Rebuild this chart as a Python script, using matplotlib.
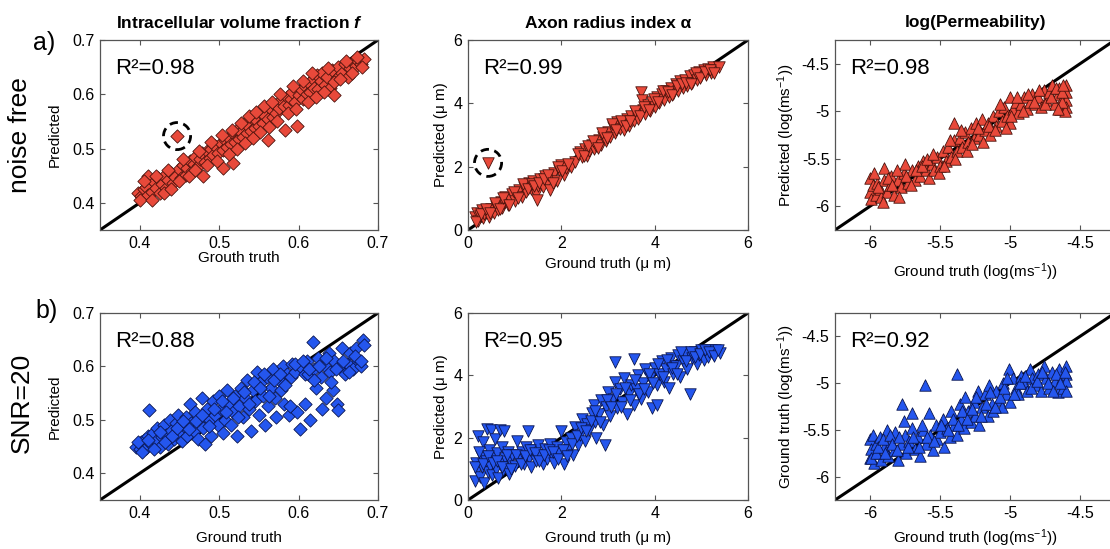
import numpy as np
import matplotlib
matplotlib.use("Agg")
import matplotlib.pyplot as plt

plt.rcParams["font.family"] = ["Liberation Sans", "DejaVu Sans"]
plt.rcParams["mathtext.fontset"] = "custom"
plt.rcParams["mathtext.rm"] = "Liberation Sans"
plt.rcParams["mathtext.it"] = "Liberation Sans:italic"
plt.rcParams["mathtext.bf"] = "Liberation Sans:bold"
plt.rcParams["mathtext.bfit"] = "Liberation Sans:italic:bold"
plt.rcParams["mathtext.default"] = "regular"

# (ground truth, predicted) pairs
f_clean = np.array([
    (0.398, 0.418), (0.402, 0.412), (0.405, 0.425), (0.408, 0.430), (0.410, 0.415),
    (0.410, 0.449), (0.415, 0.420), (0.418, 0.438), (0.420, 0.428), (0.423, 0.445),
    (0.425, 0.418), (0.428, 0.435), (0.430, 0.450), (0.433, 0.428), (0.436, 0.442),
    (0.440, 0.455), (0.442, 0.437), (0.445, 0.448), (0.450, 0.462), (0.452, 0.445),
    (0.455, 0.470), (0.458, 0.452), (0.460, 0.465), (0.463, 0.478), (0.466, 0.458),
    (0.468, 0.472), (0.470, 0.485), (0.473, 0.468), (0.476, 0.480), (0.478, 0.492),
    (0.480, 0.450), (0.482, 0.475), (0.485, 0.495), (0.488, 0.482), (0.490, 0.500),
    (0.492, 0.488), (0.495, 0.505), (0.498, 0.492), (0.505, 0.464), (0.502, 0.510),
    (0.505, 0.498), (0.517, 0.473), (0.508, 0.515), (0.510, 0.502), (0.513, 0.520),
    (0.515, 0.508), (0.518, 0.528), (0.520, 0.512), (0.523, 0.535), (0.525, 0.518),
    (0.528, 0.530), (0.530, 0.522), (0.533, 0.548), (0.535, 0.528), (0.538, 0.540),
    (0.540, 0.532), (0.543, 0.555), (0.545, 0.538), (0.548, 0.550), (0.550, 0.542),
    (0.553, 0.565), (0.555, 0.548), (0.558, 0.560), (0.562, 0.516), (0.562, 0.555),
    (0.565, 0.572), (0.568, 0.558), (0.570, 0.580), (0.572, 0.565), (0.575, 0.575),
    (0.578, 0.590), (0.583, 0.534), (0.582, 0.578), (0.585, 0.595), (0.588, 0.580),
    (0.590, 0.592), (0.592, 0.605), (0.595, 0.585), (0.598, 0.542), (0.600, 0.598),
    (0.603, 0.610), (0.605, 0.592), (0.608, 0.615), (0.610, 0.600), (0.613, 0.620),
    (0.615, 0.605), (0.618, 0.628), (0.620, 0.612), (0.623, 0.635), (0.625, 0.610),
    (0.628, 0.625), (0.630, 0.640), (0.633, 0.618), (0.636, 0.632), (0.640, 0.612),
    (0.642, 0.645), (0.645, 0.598), (0.648, 0.630), (0.650, 0.650), (0.655, 0.640),
    (0.658, 0.655), (0.662, 0.632), (0.665, 0.648), (0.668, 0.660), (0.672, 0.652),
    (0.675, 0.662), (0.678, 0.655), (0.682, 0.665), (0.447, 0.523),
    (0.400, 0.405), (0.405, 0.440), (0.415, 0.405), (0.420, 0.450), (0.430, 0.418),
    (0.435, 0.460), (0.440, 0.425), (0.450, 0.440), (0.455, 0.480), (0.462, 0.450),
    (0.470, 0.460), (0.475, 0.495), (0.485, 0.470), (0.490, 0.512), (0.497, 0.478),
    (0.503, 0.525), (0.512, 0.490), (0.516, 0.535), (0.522, 0.500), (0.527, 0.548),
    (0.532, 0.510), (0.537, 0.560), (0.542, 0.520), (0.547, 0.568), (0.552, 0.530),
    (0.557, 0.578), (0.563, 0.540), (0.567, 0.585), (0.573, 0.550), (0.577, 0.600),
    (0.587, 0.565), (0.593, 0.615), (0.597, 0.572), (0.605, 0.625), (0.612, 0.585),
    (0.617, 0.640), (0.622, 0.595), (0.632, 0.605), (0.637, 0.648), (0.644, 0.622),
    (0.652, 0.628), (0.660, 0.662), (0.667, 0.640), (0.673, 0.668), (0.680, 0.650),
])

a_clean = np.array([
    (0.15, 0.40), (0.20, 0.55), (0.22, 0.30), (0.25, 0.45), (0.30, 0.62),
    (0.32, 0.38), (0.35, 0.50), (0.40, 0.58), (0.45, 0.42), (0.50, 0.65),
    (0.55, 0.55), (0.60, 0.75), (0.65, 0.62), (0.70, 0.90), (0.72, 0.70),
    (0.78, 0.85), (0.80, 1.05), (0.85, 0.78), (0.90, 0.95), (0.95, 1.15),
    (1.00, 0.92), (1.05, 1.10), (1.10, 1.25), (1.15, 1.05), (1.20, 1.35),
    (1.25, 1.20), (1.30, 1.48), (1.35, 1.30), (1.40, 1.55), (1.45, 1.15),
    (1.48, 0.95), (1.50, 1.40), (1.55, 1.60), (1.60, 1.35), (1.65, 1.70),
    (1.70, 1.50), (1.75, 1.25), (1.80, 1.65), (1.85, 1.80), (1.90, 1.55),
    (1.95, 1.90), (2.00, 2.05), (2.05, 1.75), (2.10, 1.95), (2.20, 2.00),
    (2.30, 2.15), (2.40, 2.45), (2.45, 2.30), (2.50, 2.55), (2.55, 2.35),
    (2.60, 2.50), (2.65, 2.70), (2.70, 2.55), (2.75, 2.65), (2.80, 2.85),
    (2.85, 2.70), (2.90, 2.95), (2.95, 2.80), (3.00, 3.10), (3.05, 2.95),
    (3.10, 3.25), (3.15, 3.05), (3.20, 3.40), (3.25, 3.20), (3.30, 3.35),
    (3.35, 3.15), (3.40, 3.50), (3.45, 3.30), (3.50, 3.60), (3.55, 3.45),
    (3.60, 3.70), (3.65, 3.50), (3.70, 4.35), (3.72, 4.10), (3.75, 3.80),
    (3.80, 3.65), (3.85, 3.95), (3.90, 3.75), (3.95, 4.05), (4.00, 3.90),
    (4.05, 4.20), (4.10, 4.00), (4.15, 4.30), (4.20, 4.10), (4.25, 4.40),
    (4.30, 4.20), (4.35, 4.50), (4.40, 4.30), (4.45, 4.60), (4.50, 4.40),
    (4.55, 4.70), (4.60, 4.50), (4.65, 4.75), (4.70, 4.55), (4.75, 4.85),
    (4.80, 4.65), (4.85, 4.90), (4.90, 4.75), (4.95, 5.00), (5.00, 4.85),
    (5.05, 5.05), (5.10, 4.90), (5.15, 5.10), (5.20, 4.95), (5.25, 5.15),
    (5.30, 5.05), (5.38, 5.15), (0.43, 2.12),
    (0.18, 0.25), (0.28, 0.50), (0.38, 0.65), (0.48, 0.55), (0.58, 0.85),
    (0.68, 0.65), (0.75, 1.00), (0.88, 0.80), (0.98, 1.20), (1.08, 1.00),
    (1.18, 1.45), (1.28, 1.30), (1.38, 1.45), (1.42, 1.40), (1.52, 1.50),
    (1.62, 1.60), (1.72, 1.75), (1.82, 1.50), (1.92, 2.00), (2.02, 1.85),
    (2.15, 2.10), (2.35, 2.40), (2.48, 2.35), (2.58, 2.65), (2.68, 2.80),
    (2.78, 2.60), (2.88, 3.05), (2.98, 2.90), (3.08, 3.35), (3.18, 3.15),
    (3.28, 3.45), (3.38, 3.30), (3.48, 3.45), (3.58, 3.75), (3.68, 3.60),
    (3.78, 3.90), (3.88, 3.80), (3.98, 4.15), (4.08, 4.05), (4.18, 4.40),
    (4.28, 4.35), (4.38, 4.25), (4.48, 4.55), (4.58, 4.60), (4.68, 4.65),
    (4.78, 4.60), (4.88, 4.95), (4.98, 4.80), (5.08, 5.00), (5.18, 5.05),
    (5.28, 4.95),
])

p_clean = np.array([
    (-6.00, -5.85), (-6.00, -5.70), (-5.99, -5.92), (-5.98, -5.78), (-5.96, -5.88),
    (-5.95, -5.75), (-5.93, -5.82), (-5.92, -5.90), (-5.90, -5.60), (-5.90, -5.72),
    (-5.88, -5.85), (-5.86, -5.78), (-5.85, -5.68), (-5.83, -5.88), (-5.80, -5.72),
    (-5.78, -5.80), (-5.76, -5.65), (-5.75, -5.55), (-5.73, -5.75), (-5.70, -5.62),
    (-5.68, -5.72), (-5.66, -5.58), (-5.64, -5.68), (-5.62, -5.52), (-5.60, -5.62),
    (-5.58, -5.70), (-5.56, -5.55), (-5.54, -5.62), (-5.52, -5.48), (-5.50, -5.58),
    (-5.48, -5.42), (-5.46, -5.52), (-5.44, -5.38), (-5.42, -5.48), (-5.40, -5.12),
    (-5.40, -5.30), (-5.38, -5.42), (-5.36, -5.28), (-5.34, -5.38), (-5.32, -5.22),
    (-5.30, -5.32), (-5.28, -5.18), (-5.26, -5.28), (-5.24, -5.12), (-5.22, -5.25),
    (-5.20, -5.08), (-5.18, -5.20), (-5.16, -5.12), (-5.14, -5.25), (-5.12, -5.05),
    (-5.10, -5.15), (-5.08, -5.00), (-5.06, -5.10), (-5.04, -4.95), (-5.02, -5.05),
    (-5.00, -4.85), (-5.00, -5.12), (-4.98, -4.98), (-4.96, -4.90), (-4.94, -5.02),
    (-4.92, -4.92), (-4.90, -4.85), (-4.88, -4.98), (-4.86, -4.90), (-4.84, -4.82),
    (-4.82, -4.92), (-4.80, -4.85), (-4.78, -4.95), (-4.76, -4.78), (-4.74, -4.88),
    (-4.72, -4.80), (-4.70, -4.72), (-4.68, -4.92), (-4.66, -4.82), (-4.65, -4.75),
    (-4.64, -4.98), (-4.62, -4.85), (-4.60, -4.72), (-4.60, -4.80), (-4.60, -4.88),
    (-4.60, -4.95), (-4.61, -5.00), (-4.63, -4.90),
    (-5.97, -5.65), (-5.94, -5.80), (-5.91, -5.95), (-5.87, -5.70), (-5.84, -5.78),
    (-5.81, -5.62), (-5.79, -5.90), (-5.74, -5.68), (-5.71, -5.78), (-5.67, -5.62),
    (-5.63, -5.58), (-5.59, -5.50), (-5.55, -5.45), (-5.51, -5.65), (-5.47, -5.58),
    (-5.43, -5.30), (-5.39, -5.50), (-5.35, -5.20), (-5.31, -5.42), (-5.27, -5.35),
    (-5.23, -5.18), (-5.19, -5.32), (-5.15, -5.15), (-5.11, -5.20), (-5.07, -4.92),
    (-5.03, -5.18), (-4.99, -5.05), (-4.95, -4.85), (-4.91, -5.00), (-4.87, -4.82),
    (-4.83, -4.90), (-4.79, -4.78), (-4.75, -4.92), (-4.71, -4.85), (-4.67, -4.75),
    (-4.63, -4.80), (-4.62, -4.72), (-4.66, -4.98),
])

f_snr20 = np.array([
    (0.395, 0.450), (0.400, 0.445), (0.402, 0.458), (0.405, 0.462), (0.408, 0.448),
    (0.410, 0.470), (0.412, 0.518), (0.414, 0.455), (0.417, 0.475), (0.420, 0.460),
    (0.422, 0.485), (0.425, 0.450), (0.428, 0.468), (0.430, 0.490), (0.433, 0.472),
    (0.436, 0.455), (0.438, 0.500), (0.440, 0.480), (0.443, 0.465), (0.446, 0.495),
    (0.448, 0.510), (0.450, 0.475), (0.453, 0.460), (0.456, 0.488), (0.458, 0.505),
    (0.460, 0.470), (0.463, 0.530), (0.465, 0.495), (0.468, 0.480), (0.470, 0.515),
    (0.473, 0.465), (0.476, 0.500), (0.478, 0.540), (0.480, 0.485), (0.482, 0.455),
    (0.485, 0.520), (0.488, 0.500), (0.490, 0.470), (0.492, 0.535), (0.495, 0.510),
    (0.498, 0.490), (0.500, 0.545), (0.502, 0.520), (0.505, 0.475), (0.507, 0.500),
    (0.510, 0.555), (0.512, 0.530), (0.515, 0.490), (0.518, 0.515), (0.520, 0.545),
    (0.522, 0.470), (0.525, 0.525), (0.528, 0.560), (0.530, 0.505), (0.533, 0.540),
    (0.535, 0.575), (0.538, 0.520), (0.540, 0.480), (0.543, 0.555), (0.545, 0.535),
    (0.548, 0.590), (0.550, 0.510), (0.553, 0.570), (0.555, 0.545), (0.558, 0.490),
    (0.560, 0.580), (0.562, 0.525), (0.565, 0.560), (0.568, 0.595), (0.570, 0.540),
    (0.572, 0.505), (0.575, 0.575), (0.578, 0.555), (0.580, 0.600), (0.582, 0.530),
    (0.585, 0.585), (0.588, 0.510), (0.590, 0.580), (0.592, 0.605), (0.595, 0.590),
    (0.598, 0.515), (0.602, 0.483), (0.602, 0.600), (0.608, 0.585), (0.608, 0.530),
    (0.610, 0.610), (0.612, 0.585), (0.615, 0.500), (0.618, 0.646), (0.620, 0.595),
    (0.622, 0.560), (0.625, 0.615), (0.628, 0.580), (0.630, 0.520), (0.633, 0.600),
    (0.635, 0.540), (0.638, 0.625), (0.640, 0.590), (0.643, 0.555), (0.645, 0.610),
    (0.648, 0.530), (0.650, 0.518), (0.652, 0.600), (0.655, 0.635), (0.658, 0.585),
    (0.662, 0.605), (0.665, 0.625), (0.668, 0.595), (0.672, 0.635), (0.675, 0.610),
    (0.678, 0.600), (0.681, 0.649), (0.682, 0.640),
    (0.398, 0.458), (0.403, 0.440), (0.411, 0.462), (0.418, 0.445), (0.426, 0.478),
    (0.432, 0.458), (0.441, 0.470), (0.447, 0.485), (0.455, 0.498), (0.462, 0.482),
    (0.471, 0.498), (0.478, 0.510), (0.487, 0.488), (0.494, 0.520), (0.503, 0.535),
    (0.509, 0.515), (0.517, 0.540), (0.524, 0.505), (0.531, 0.552), (0.537, 0.530),
    (0.544, 0.570), (0.551, 0.560), (0.557, 0.585), (0.563, 0.545), (0.569, 0.575),
    (0.577, 0.585), (0.583, 0.565), (0.589, 0.525), (0.596, 0.605), (0.606, 0.610),
    (0.613, 0.595), (0.619, 0.575), (0.626, 0.600), (0.634, 0.615), (0.641, 0.570),
    (0.647, 0.595), (0.656, 0.610), (0.663, 0.590), (0.671, 0.620), (0.679, 0.610),
])

a_snr20 = np.array([
    (0.15, 0.60), (0.18, 1.20), (0.20, 0.95), (0.22, 2.05), (0.25, 0.75),
    (0.28, 1.40), (0.30, 1.05), (0.32, 1.85), (0.35, 0.55), (0.38, 1.25),
    (0.40, 2.28), (0.42, 0.90), (0.45, 1.60), (0.48, 1.10), (0.50, 2.25),
    (0.52, 0.80), (0.55, 1.35), (0.58, 1.95), (0.60, 1.00), (0.62, 1.50),
    (0.65, 0.70), (0.68, 2.25), (0.70, 1.20), (0.72, 1.70), (0.75, 0.95),
    (0.78, 2.20), (0.80, 1.35), (0.82, 1.05), (0.85, 1.55), (0.88, 0.85),
    (0.90, 1.25), (0.95, 1.45), (1.00, 1.10), (1.05, 1.90), (1.10, 1.30),
    (1.15, 1.55), (1.20, 1.15), (1.25, 1.70), (1.28, 2.20), (1.30, 1.35),
    (1.35, 1.05), (1.40, 1.60), (1.45, 1.25), (1.50, 1.75), (1.55, 1.40),
    (1.60, 1.15), (1.65, 1.65), (1.70, 1.30), (1.75, 1.80), (1.80, 1.45),
    (1.85, 1.20), (1.90, 1.70), (1.95, 1.50), (2.00, 2.20), (2.05, 1.15),
    (2.10, 1.85), (2.15, 1.60), (2.20, 2.00), (2.25, 1.45), (2.30, 2.35),
    (2.35, 1.75), (2.40, 2.10), (2.45, 2.60), (2.50, 1.90), (2.55, 2.45),
    (2.60, 2.25), (2.65, 2.80), (2.70, 3.05), (2.72, 2.50), (2.75, 2.00),
    (2.80, 2.75), (2.85, 3.20), (2.90, 2.40), (2.93, 1.77), (2.95, 3.00),
    (3.00, 3.45), (3.05, 2.70), (3.10, 3.25), (3.15, 4.43), (3.15, 3.80),
    (3.20, 2.95), (3.25, 3.55), (3.30, 3.15), (3.35, 3.90), (3.40, 2.75),
    (3.45, 3.40), (3.50, 3.70), (3.55, 4.52), (3.55, 3.05), (3.60, 3.55),
    (3.65, 4.00), (3.70, 3.25), (3.75, 3.75), (3.80, 4.20), (3.85, 3.45),
    (3.90, 3.90), (3.95, 2.95), (4.00, 4.25), (4.05, 3.05), (4.05, 3.70),
    (4.10, 4.05), (4.15, 4.45), (4.20, 3.80), (4.25, 4.20), (4.30, 3.60),
    (4.35, 4.55), (4.40, 4.05), (4.45, 4.30), (4.50, 4.65), (4.55, 3.95),
    (4.60, 4.45), (4.65, 4.70), (4.70, 4.20), (4.75, 3.40), (4.80, 4.55),
    (4.85, 4.75), (4.90, 4.35), (4.95, 4.65), (5.00, 4.80), (5.05, 4.50),
    (5.10, 4.75), (5.15, 4.60), (5.20, 4.80), (5.25, 4.70), (5.30, 4.80),
    (5.40, 4.72),
    (0.16, 1.05), (0.24, 1.55), (0.33, 1.15), (0.43, 1.40), (0.53, 1.20),
    (0.63, 1.25), (0.73, 1.05), (0.83, 1.45), (0.93, 1.00), (1.03, 1.45),
    (1.13, 1.15), (1.23, 1.40), (1.33, 1.60), (1.43, 1.50), (1.53, 1.25),
    (1.63, 1.45), (1.73, 1.60), (1.83, 1.55), (1.93, 1.30), (2.03, 1.60),
    (2.13, 1.40), (2.23, 1.80), (2.33, 2.05), (2.43, 2.30), (2.53, 2.20),
    (2.63, 2.55), (2.73, 2.85), (2.83, 2.50), (2.97, 3.20), (3.07, 3.00),
    (3.17, 3.40), (3.27, 3.00), (3.37, 3.60), (3.47, 3.20), (3.57, 3.85),
    (3.67, 3.40), (3.77, 3.55), (3.87, 4.05), (3.97, 3.75), (4.07, 4.35),
    (4.17, 3.95), (4.27, 4.50), (4.37, 4.25), (4.47, 4.05), (4.57, 4.75),
    (4.67, 4.45), (4.77, 4.75), (4.87, 4.60), (4.97, 4.70), (5.07, 4.80),
    (5.17, 4.75), (5.27, 4.62), (5.35, 4.80),
])

p_snr20 = np.array([
    (-6.00, -5.60), (-6.00, -5.80), (-5.99, -5.70), (-5.98, -5.55), (-5.97, -5.85),
    (-5.96, -5.65), (-5.95, -5.75), (-5.93, -5.58), (-5.92, -5.82), (-5.90, -5.68),
    (-5.88, -5.50), (-5.87, -5.78), (-5.85, -5.62), (-5.83, -5.72), (-5.82, -5.52),
    (-5.80, -5.82), (-5.78, -5.65), (-5.77, -5.22), (-5.76, -5.40), (-5.75, -5.55),
    (-5.74, -5.75), (-5.72, -5.62), (-5.70, -5.48), (-5.70, -5.32), (-5.68, -5.70),
    (-5.66, -5.58), (-5.64, -5.78), (-5.62, -5.50), (-5.61, -5.02), (-5.60, -5.65),
    (-5.58, -5.32), (-5.57, -5.55), (-5.55, -5.72), (-5.53, -5.45), (-5.52, -5.60),
    (-5.50, -5.52), (-5.48, -5.38), (-5.47, -5.68), (-5.45, -5.48), (-5.43, -5.58),
    (-5.42, -5.30), (-5.40, -5.45), (-5.38, -4.90), (-5.38, -5.55), (-5.36, -5.22),
    (-5.35, -5.38), (-5.33, -5.48), (-5.32, -5.15), (-5.30, -5.30), (-5.28, -5.42),
    (-5.26, -5.20), (-5.25, -5.35), (-5.23, -5.08), (-5.22, -5.45), (-5.20, -5.25),
    (-5.18, -5.12), (-5.16, -5.35), (-5.15, -5.02), (-5.13, -5.22), (-5.12, -5.30),
    (-5.10, -5.08), (-5.08, -5.18), (-5.06, -5.25), (-5.05, -5.00), (-5.03, -5.12),
    (-5.01, -4.85), (-5.00, -5.20), (-4.98, -4.95), (-4.96, -5.05), (-4.94, -5.12),
    (-4.92, -4.92), (-4.90, -5.00), (-4.88, -5.08), (-4.86, -4.85), (-4.84, -4.95),
    (-4.82, -5.02), (-4.80, -4.90), (-4.78, -5.08), (-4.76, -4.82), (-4.74, -4.95),
    (-4.72, -5.05), (-4.70, -4.88), (-4.68, -4.98), (-4.66, -5.10), (-4.65, -4.85),
    (-4.63, -4.95), (-4.62, -5.05), (-4.60, -4.82), (-4.60, -4.90), (-4.60, -4.98),
    (-4.60, -5.08),
    (-5.99, -5.80), (-5.96, -5.75), (-5.94, -5.68), (-5.91, -5.60), (-5.89, -5.75),
    (-5.86, -5.55), (-5.84, -5.65), (-5.81, -5.72), (-5.79, -5.58), (-5.73, -5.68),
    (-5.69, -5.58), (-5.65, -5.68), (-5.63, -5.45), (-5.59, -5.58), (-5.54, -5.62),
    (-5.49, -5.45), (-5.44, -5.50), (-5.41, -5.38), (-5.37, -5.45), (-5.34, -5.30),
    (-5.31, -5.38), (-5.27, -5.28), (-5.24, -5.15), (-5.21, -5.35), (-5.17, -5.22),
    (-5.14, -5.10), (-5.11, -5.25), (-5.07, -5.15), (-5.04, -5.05), (-5.02, -4.95),
    (-4.97, -5.12), (-4.93, -5.00), (-4.89, -4.92), (-4.85, -5.05), (-4.81, -4.98),
    (-4.77, -4.88), (-4.73, -5.00), (-4.69, -5.08), (-4.67, -4.90), (-4.64, -5.00),
    (-4.61, -4.88),
])

r2_clean = ["0.98", "0.99", "0.98"]
r2_snr20 = ["0.88", "0.95", "0.92"]
outliers = {0: (0.447, 0.523), 1: (0.43, 2.12)}

titles = [r"Intracellular volume fraction $\mathbfit{f}$", "Axon radius index α",
          "log(Permeability)"]
limits = [(0.35, 0.7), (0, 6), (-6.25, -4.25)]
ticks = [[0.4, 0.5, 0.6, 0.7], [0, 2, 4, 6], [-6, -5.5, -5, -4.5]]
tick_labels = [["0.4", "0.5", "0.6", "0.7"], ["0", "2", "4", "6"],
               ["-6", "-5.5", "-5", "-4.5"]]
markers = ["D", "v", "^"]
msize = [46, 68, 68]
RED, RED_EDGE = "#e8493a", "#4a120c"
BLUE, BLUE_EDGE = "#2456ee", "#0a1650"

W, H = 1110, 549
fig = plt.figure(figsize=(W / 100, H / 100), dpi=100)

# axes boxes in pixels: left, top, right, bottom
cols = [(100, 378), (468, 748), (835, 1115)]
rows = [(40, 230), (313, 500)]


def add_axes(c, r):
    l, rr = cols[c]
    t, b = rows[r]
    return fig.add_axes([l / W, 1 - b / H, (rr - l) / W, (b - t) / H])


def panel(ax, data, c, color, edge, r2):
    lo, hi = limits[c]
    ax.plot([lo, hi], [lo, hi], color="k", lw=2.2, zorder=1)
    ax.scatter(data[:, 0], data[:, 1], s=msize[c], marker=markers[c],
               facecolor=color, edgecolor=edge, linewidths=0.6, zorder=2)
    ax.set_xlim(lo, hi)
    ax.set_ylim(lo, hi)
    ax.set_xticks(ticks[c])
    ax.set_yticks(ticks[c])
    ax.set_xticklabels(tick_labels[c])
    ax.set_yticklabels(tick_labels[c])
    ax.tick_params(direction="in", top=True, right=True, length=3.5,
                   width=0.8, labelsize=11.5, pad=4, color="#555555")
    for s in ax.spines.values():
        s.set_color("#555555")
        s.set_linewidth(0.9)
    ax.text(0.055, 0.82, "R²=" + r2, transform=ax.transAxes, fontsize=16,
            ha="left", va="baseline")


ylabels_top = ["Predicted", "Predicted (μ m)", r"Predicted (log(ms$^{-1}$))"]
ylabels_bot = ["Predicted", "Predicted (μ m)", r"Ground truth (log(ms$^{-1}$))"]
xlabels_top = ["Grouth truth", "Ground truth (μ m)", r"Ground truth (log(ms$^{-1}$))"]
xlabels_bot = ["Ground truth", "Ground truth (μ m)", r"Ground truth (log(ms$^{-1}$))"]
ylab_x = [-0.137, -0.071, -0.136]
xlab_y_top = [-0.11, -0.14, -0.165]
xlab_y_bot = [-0.165, -0.165, -0.145]

for c, data in enumerate([f_clean, a_clean, p_clean]):
    ax = add_axes(c, 0)
    panel(ax, data, c, RED, RED_EDGE, r2_clean[c])
    ax.set_title(titles[c], fontsize=12.5, fontweight="bold", pad=9)
    ax.set_ylabel(ylabels_top[c], fontsize=11)
    ax.set_xlabel(xlabels_top[c], fontsize=11)
    ax.yaxis.set_label_coords(ylab_x[c], 0.5)
    ax.xaxis.set_label_coords(0.5, xlab_y_top[c])
    if c in outliers:
        ox, oy = outliers[c]
        ax.scatter([ox], [oy], s=380, marker="o", facecolor="none",
                   edgecolor="k", linewidths=2, linestyle=(0, (3, 2)), zorder=3)

for c, data in enumerate([f_snr20, a_snr20, p_snr20]):
    ax = add_axes(c, 1)
    panel(ax, data, c, BLUE, BLUE_EDGE, r2_snr20[c])
    ax.set_ylabel(ylabels_bot[c], fontsize=11)
    ax.set_xlabel(xlabels_bot[c], fontsize=11)
    ax.yaxis.set_label_coords(ylab_x[c], 0.5)
    ax.xaxis.set_label_coords(0.5, xlab_y_bot[c])

fig.text(33 / W, 1 - 50 / H, "a)", fontsize=18, ha="left", va="baseline")
fig.text(35 / W, 1 - 318 / H, "b)", fontsize=18, ha="left", va="baseline")
fig.text(20 / W, 1 - 135 / H, "noise free", fontsize=19, rotation=90,
         ha="center", va="center")
fig.text(22 / W, 1 - 403 / H, "SNR=20", fontsize=19, rotation=90,
         ha="center", va="center")

fig.savefig("out.png", dpi=100)
